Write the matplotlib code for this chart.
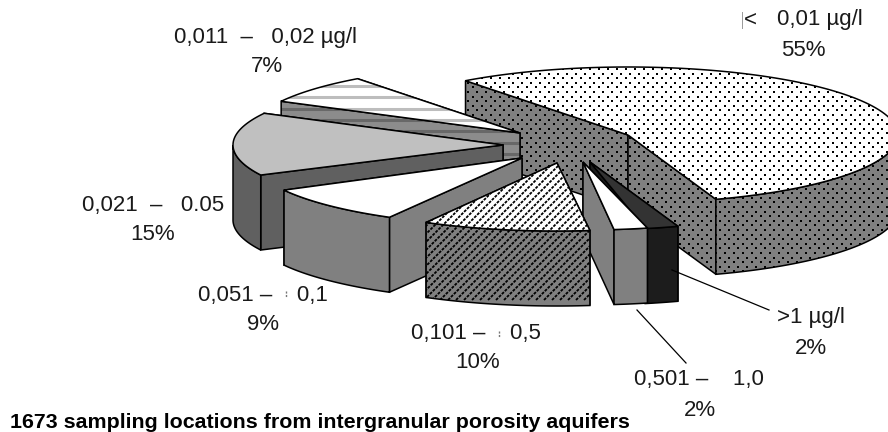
import numpy as np
import matplotlib

matplotlib.use("Agg")
from matplotlib import pyplot as plt
from matplotlib.patches import Polygon

plt.rcParams["font.family"] = ["Liberation Sans", "DejaVu Sans"]

# clockwise from the big slice
shares = [55, 2, 2, 10, 9, 15, 7]
range_labels = [
    "0,01 µg/l",
    ">1 µg/l",
    "0,501 –    1,0",
    "0,101 –    0,5",
    "0,051 –    0,1",
    "0,021  –   0.05",
    "0,011  –   0,02 µg/l",
]
share_labels = ["55%", "2%", "2%", "10%", "9%", "15%", "7%"]

start_angle = 127
rx, ry = 270, 68
depth = 75

# exploded slice tips in pixels, and small correction of the drawn angle
tip_x = [628, 590, 583, 557, 522, 503, 520]
tip_y = [135, 162, 162, 163, 158, 145, 133]
turn = [0, 0, 2, 2.4, 2, 0, 0]

top_colors = ["white", "#333333", "white", "white", "white", "#c0c0c0", "white"]
wall_colors = ["#808080", "#1c1c1c", "#808080", "#808080", "#808080", "#606060", "#8c8c8c"]
textures = ["dots", None, None, "stripes", None, None, "bands"]

label_x = [777, 777, 634, 411, 198, 82, 174]
label_y = [20, 318, 380, 333, 295, 205, 37]
pct_x = [803, 811, 700, 478, 263, 153, 267]
pct_y = [50, 348, 410, 363, 325, 235, 67]

fig = plt.figure(figsize=(8.88, 4.32), dpi=100)
ax = fig.add_axes([0, 0, 1, 1])
ax.set_xlim(0, 888)
ax.set_ylim(432, 0)
ax.axis("off")


def add_texture(patch, kind, color):
    if kind == "dots":
        xs, ys = np.meshgrid(np.arange(0, 900, 9.0), np.arange(0, 440, 4.6))
        xs = xs + 4.5 * (np.arange(xs.shape[0]) % 2)[:, None]
        dots = ax.scatter(xs.ravel(), ys.ravel(), s=2.4, marker="s", c="black", lw=0)
        dots.set_clip_path(patch)
    elif kind == "stripes":
        for k in np.arange(300, 1100, 8.0):
            (line,) = ax.plot(
                [k - 300, k], [300, 0], color="black", lw=1.3, ls=(0, (1.6, 0.7)), zorder=1
            )
            line.set_clip_path(patch)
    elif kind == "bands":
        band = "#bdbdbd" if color == "white" else "#686868"
        for y in np.arange(86, 170, 11.3):
            (line,) = ax.plot([250, 540], [y, y], color=band, lw=2.2, zorder=1)
            line.set_clip_path(patch)


def face(points, color, kind=None):
    patch = Polygon(points, closed=True, facecolor=color, edgecolor="none")
    ax.add_patch(patch)
    add_texture(patch, kind, color)
    ax.add_patch(
        Polygon(points, closed=True, facecolor="none", edgecolor="black", lw=1.1)
    )


def draw_slice(i, a_from, a_to):
    tip = np.array([tip_x[i], tip_y[i]], dtype=float)
    angles = np.radians(np.arange(a_from, a_to - 0.05, -0.25))
    angles = np.append(angles, np.radians(a_to))
    rim = tip + np.column_stack([rx * np.cos(angles), -ry * np.sin(angles)])
    down = np.array([0, depth])

    # radial walls, the one nearer the viewer goes last
    for end in sorted((rim[0], rim[-1]), key=lambda p: p[1]):
        face([tip, end, end + down, tip + down], wall_colors[i], textures[i])

    front = np.sin(angles) <= 0
    if front.any():
        arc = rim[front]
        face(np.vstack([arc, arc[::-1] + down]), wall_colors[i], textures[i])

    face(np.vstack([tip, rim]), top_colors[i], textures[i])


edges = start_angle - np.cumsum([0] + [s * 3.6 for s in shares])
for i in [0, 1, 2, 6, 5, 4, 3]:
    draw_slice(i, edges[i] + turn[i], edges[i + 1] + turn[i])

text_color = "#1a1a1a"
for i in range(len(shares)):
    ax.text(label_x[i], label_y[i], range_labels[i], fontsize=16, color=text_color, va="center", ha="left")
    ax.text(pct_x[i], pct_y[i], share_labels[i], fontsize=16, color=text_color, va="center", ha="center")
ax.text(750, 20, "<", fontsize=16, color=text_color, va="center", ha="center")
ax.plot([741.5, 741.5], [12, 28], color="#999999", lw=0.7)
# little scan specks left in the middle of two labels
ax.plot([286, 286], [291, 297], color="#777777", lw=1.0, ls=(0, (1.5, 1)))
ax.plot([499, 499], [331, 337], color="#777777", lw=1.0, ls=(0, (1.5, 1)))

# leader lines
ax.plot([672, 769], [270, 310], color="black", lw=0.9)
ax.plot([637, 686], [310, 363], color="black", lw=0.9)

ax.text(
    10, 422, "1673 sampling locations from intergranular porosity aquifers",
    fontsize=15.4, fontweight="bold", va="center", ha="left",
)

fig.savefig("out.png", dpi=100)
